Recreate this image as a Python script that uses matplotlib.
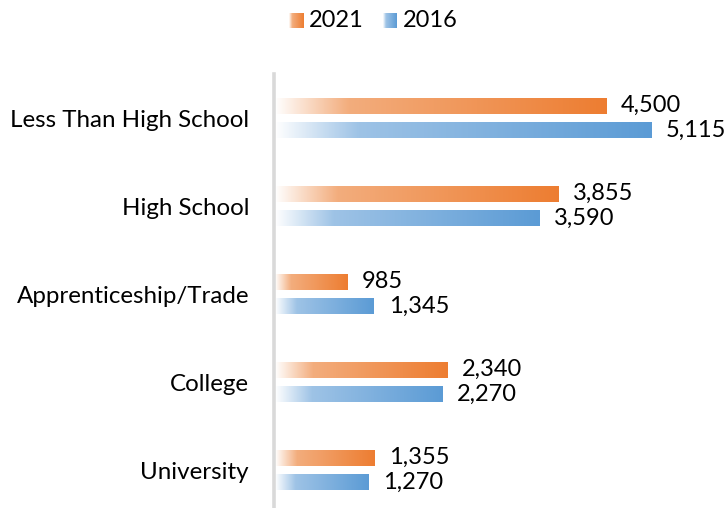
import numpy as np
import matplotlib
matplotlib.use("Agg")
from matplotlib import pyplot as plt
from matplotlib.colors import LinearSegmentedColormap

categories = ["Less Than High School", "High School", "Apprenticeship/Trade",
              "College", "University"]
values_2021 = [4500, 3855, 985, 2340, 1355]
values_2016 = [5115, 3590, 1345, 2270, 1270]
series_names = ["2021", "2016"]

ORANGE = "#ED7D31"
BLUE = "#5B9BD5"

plt.rcParams["font.family"] = ["Lato", "DejaVu Sans"]


def grad_cmap(light, full):
    return LinearSegmentedColormap.from_list(
        "g", [(0, "#ffffff"), (0.22, light), (1, full)])


cmaps = [grad_cmap("#F3AD7D", ORANGE), grad_cmap("#9EC3E6", BLUE)]
grad = np.linspace(0, 1, 256).reshape(1, -1)

fig = plt.figure(figsize=(7.26, 5.08), dpi=100)
W, H = 726, 508
ax = fig.add_axes([274 / W, 0, (720 - 274) / W, (508 - 74) / H])

y = np.arange(len(categories))
offsets = [-0.14, 0.14]
bh = 0.18
for vals, off, cm in zip([values_2021, values_2016], offsets, cmaps):
    bars = ax.barh(y + off, vals, height=bh, color="none", edgecolor="none")
    for bar, v in zip(bars, vals):
        x0, y0 = bar.get_xy()
        ax.imshow(grad, cmap=cm, aspect="auto", interpolation="bilinear",
                  extent=[x0, x0 + bar.get_width(), y0, y0 + bar.get_height()],
                  zorder=2)
        ax.text(v + 205, y0 + bar.get_height() / 2, f"{v:,}",
                va="center", ha="left", fontsize=17, color="#000000")

ax.set_xlim(-7, (720 - 274) / 0.0736 - 7)
ax.set_ylim(4.43, -0.5)
ax.set_yticks(y)
ax.set_yticklabels(categories, fontsize=17.4)
ax.tick_params(axis="y", length=0, pad=18)
ax.set_xticks([])
for s in ["top", "right", "bottom"]:
    ax.spines[s].set_visible(False)
ax.spines["left"].set_color("#d9d9d9")
ax.spines["left"].set_linewidth(2.6)

# legend with gradient swatches
for name, cm, sx in zip(series_names, cmaps, [289, 383]):
    lax = fig.add_axes([sx / W, 1 - 28 / H, 14 / W, 15 / H])
    lax.imshow(grad, cmap=cm, aspect="auto", interpolation="bilinear")
    lax.axis("off")
    fig.text((sx + 20) / W, 1 - 20.5 / H, name, fontsize=17,
             va="center", ha="left")

fig.savefig("out.png", dpi=100)
